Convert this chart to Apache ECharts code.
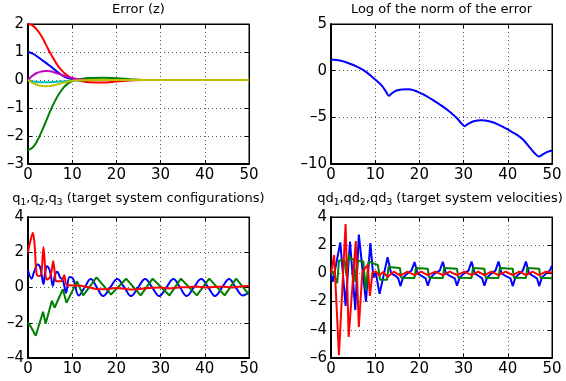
<!DOCTYPE html>
<html>
<head>
<meta charset="utf-8">
<script src="https://cdn.jsdelivr.net/npm/echarts@6/dist/echarts.min.js"></script>
<style>
html,body{margin:0;padding:0;background:#fff;}
#c{width:566px;height:381px;}
</style>
</head>
<body>
<div id="c"></div>
<script>
// ---------- Titles ----------
const titles = [
  'Error (z)',
  'Log of the norm of the error',
  'q{s|1},q{s|2},q{s|3} (target system configurations)',
  'qd{s|1},qd{s|2},qd{s|3} (target system velocities)'
];

// ---------- Axis ranges ----------
const xRange = [0, 50, 10];
const yRanges = [[-3, 2, 1], [-10, 5, 5], [-4, 4, 2], [-6, 4, 2]];

// ---------- Panel 1: Error (z) ----------
const errBlue = [[0,1],[1,0.95],[2,0.85],[3,0.73],[4,0.62],[5,0.5],[6,0.37],[7,0.25],[8,0.14],[9,0.07],[10,0.03],[11,0.01],[12,0],[20,0],[50,0]];
const errGreen = [[0,-2.5],[1,-2.42],[2,-2.2],[3,-1.87],[4,-1.5],[5,-1.12],[6,-0.78],[7,-0.5],[8,-0.28],[9,-0.13],[10,-0.04],[11,0.01],[12,0.04],[14,0.07],[17,0.08],[20,0.06],[23,0.03],[26,0],[35,0],[50,0]];
const errRed = [[0,2],[1,1.95],[2,1.8],[3,1.58],[4,1.28],[5,0.97],[6,0.7],[7,0.46],[8,0.28],[9,0.15],[10,0.06],[11,0],[12,-0.04],[14,-0.08],[17,-0.09],[20,-0.05],[23,-0.02],[26,0],[35,0],[50,0]];
const errCyan = [[0,0],[1,-0.05],[2,-0.07],[4,-0.08],[6,-0.07],[8,-0.05],[10,-0.03],[12,-0.01],[14,0],[25,0],[50,0]];
const errMagenta = [[0,0],[1,0.15],[2,0.25],[3,0.3],[4,0.32],[5,0.31],[6,0.27],[7,0.22],[8,0.16],[9,0.11],[10,0.07],[11,0.04],[12,0.02],[14,0],[25,0],[50,0]];
const errYellow = [[0,0],[1,-0.1],[2,-0.17],[3,-0.21],[4,-0.22],[5,-0.21],[6,-0.18],[7,-0.14],[8,-0.1],[9,-0.06],[10,-0.03],[12,-0.01],[14,0],[25,0],[50,0]];

// ---------- Panel 2: Log of the norm of the error ----------
const logNorm = [[0,1.2],[2,1.08],[4,0.8],[6,0.4],[8,-0.15],[10,-0.95],[11.5,-1.6],[12.5,-2.3],[13.1,-2.7],[13.7,-2.45],[14.7,-2.15],[16,-2.02],[17.5,-2.0],[19,-2.15],[20,-2.35],[21.5,-2.7],[23,-3.13],[25,-3.75],[27,-4.45],[28.5,-5.1],[29.5,-5.65],[30.2,-5.95],[31,-5.7],[32.5,-5.4],[34,-5.3],[36,-5.45],[38,-5.8],[40,-6.3],[42,-6.85],[43.5,-7.4],[45,-8.25],[46.2,-8.9],[47,-9.2],[48,-8.95],[49,-8.7],[50,-8.55]];

// ---------- Panel 3: q1,q2,q3 ----------
const qBlue = [[0,1.0],[0.8,0.5],[1.4,0.9],[2.2,1.3],[2.8,1.1],[3.5,0.2],[3.9,0.9],[4.3,1.2],[5.0,0.9],[5.6,0.1],[6.1,0.7],[6.6,0.9],[7.3,0.55],[7.8,0.45],[8.2,0.1],[8.6,-0.3],[9.4,0.6],[10.2,0.5],[11.5,-0.45],[12.8,0.0],[14.2,0.48],[15.6,0.0],[17.0,-0.48],[18.6,0.0],[20.2,0.48],[21.8,0.0],[23.3,-0.48],[24.9,0.0],[26.5,0.48],[28.1,0.0],[29.7,-0.48],[31.3,0.0],[32.9,0.48],[34.4,0.0],[35.9,-0.48],[37.5,0.0],[39.2,0.48],[40.8,0.0],[42.3,-0.48],[43.9,0.0],[45.5,0.48],[47.0,0.0],[48.6,-0.45],[50,-0.25]];
const qGreen = [[0,-1.98],[0.8,-2.3],[1.75,-2.74],[3.4,-1.38],[4.0,-2.04],[5.4,-0.75],[6.0,-1.15],[7.9,-0.1],[8.7,-0.87],[11.1,0.34],[12.5,-0.45],[15.5,0.57],[18.8,-0.4],[22.2,0.5],[25.5,-0.45],[28.2,0.5],[32.0,-0.45],[34.6,0.5],[38.2,-0.45],[41.0,0.5],[44.5,-0.45],[47.1,0.5],[50,-0.4]];
const qRed = [[0,2.0],[0.5,2.6],[1.1,3.1],[1.5,2.4],[2.0,0.7],[2.7,0.65],[3.1,1.0],[3.5,2.3],[3.8,1.4],[4.2,0.45],[4.9,0.55],[5.3,0.9],[5.7,1.5],[6.1,0.75],[6.4,0.35],[7.5,0.35],[8.2,0.7],[8.7,0.15],[10,0.12],[12,0.1],[14,0.0],[16,-0.1],[18,-0.08],[20,-0.03],[22,-0.08],[24,-0.12],[26,-0.05],[28,-0.02],[30,0.0],[32,-0.05],[34,0.0],[36,0.02],[38,0.05],[40,0.0],[42,0.03],[44,0.05],[46,0.0],[48,0.05],[50,0.08]];

// ---------- Panel 4: qd1,qd2,qd3 ----------
const qdBlue = [[0,0],[0.4,-0.6],[2.1,2.2],[3.3,-2.3],[4.3,2.25],[5.5,-2.6],[6.3,2.75],[7.9,-2.0],[8.9,2.15],[9.6,-0.3],[10.1,0.1],[11.0,-1.45],[12.8,1.15],[13.6,0.0],[14.7,-0.2],[15.2,-0.35],[15.7,-0.9],[16.3,-0.3],[17.3,0.0],[18.2,0.2],[18.9,0.8],[19.6,0.0],[20.6,-0.2],[21.4,-0.35],[21.9,-0.88],[22.5,-0.3],[23.5,0.0],[24.6,0.2],[25.3,0.82],[26.0,0.0],[27.0,-0.2],[28.0,-0.35],[28.5,-0.88],[29.1,-0.3],[30.1,0.0],[31.1,0.2],[31.8,0.84],[32.5,0.0],[33.5,-0.2],[34.2,-0.35],[34.7,-0.88],[35.3,-0.3],[36.3,0.0],[37.2,0.2],[37.9,0.84],[38.6,0.0],[39.6,-0.2],[40.6,-0.35],[41.1,-0.9],[41.7,-0.3],[42.7,0.0],[43.4,0.2],[44.1,0.84],[44.8,0.0],[45.8,-0.2],[46.6,-0.35],[47.1,-0.9],[47.7,-0.3],[48.7,0.0],[49.6,0.25],[50,0.55]];
const qdGreen = [[0,0],[0.4,0.15],[1.4,-0.7],[1.8,0.9],[2.5,0.95],[3.1,0.9],[3.5,-0.2],[4.0,1.3],[4.6,1.0],[5.2,1.0],[5.5,-0.6],[6.1,0.9],[7.3,0.85],[7.9,-1.2],[8.5,0.85],[9.3,0.75],[10.6,0.6],[11.1,-0.45],[12.7,-0.45],[13.0,0.45],[15.6,0.38],[15.9,-0.3],[18.9,-0.32],[19.2,0.38],[21.9,0.33],[22.2,-0.3],[25.3,-0.32],[25.6,0.38],[28.5,0.33],[28.8,-0.3],[31.8,-0.32],[32.1,0.38],[34.7,0.33],[35.0,-0.3],[37.9,-0.32],[38.2,0.38],[41.1,0.33],[41.4,-0.3],[44.1,-0.32],[44.4,0.38],[47.1,0.33],[47.4,-0.3],[50,-0.35]];
const qdRed = [[0,0],[0.7,1.3],[1.8,-5.8],[3.3,3.5],[4.0,-4.5],[5.6,2.3],[6.3,-3.8],[7.1,0.1],[8.3,0.6],[8.8,-1.6],[9.4,0.1],[10.2,0.12],[10.9,-0.15],[11.8,0.1],[12.8,-0.25],[14.2,0.12],[15.7,-0.15],[17.3,0.12],[18.9,-0.12],[20.4,0.12],[21.9,-0.12],[23.6,0.12],[25.3,-0.12],[26.9,0.12],[28.5,-0.12],[30.2,0.12],[31.8,-0.12],[33.3,0.12],[34.7,-0.12],[36.3,0.12],[37.9,-0.12],[39.5,0.12],[41.1,-0.12],[42.6,0.12],[44.1,-0.12],[45.6,0.12],[47.1,-0.12],[48.6,0.12],[50,0.05]];

// ---------- Layout / style ----------
const FONT = '"DejaVu Sans", "Liberation Sans", Arial, sans-serif';
const grids = [
  {left: 28, top: 24, width: 221, height: 140},
  {left: 331, top: 24, width: 221, height: 140},
  {left: 28, top: 217, width: 221, height: 141},
  {left: 331, top: 217, width: 221, height: 141}
];
const titlePos = [[138.5, 10], [441.5, 10], [138.5, 199], [440, 199]];
const C = {b: '#0000ff', g: '#008000', r: '#ff0000', c: '#00bfbf', m: '#bf00bf', y: '#bfbf00'};

const minusFmt = v => String(v).replace('-', '\u2013');

const xAxes = [], yAxes = [];
grids.forEach((g, i) => {
  const yr = yRanges[i];
  xAxes.push({
    gridIndex: i, type: 'value', min: xRange[0], max: xRange[1], interval: xRange[2], position: 'bottom',
    axisLine: {show: true, onZero: false, lineStyle: {color: '#000', width: 2}},
    axisTick: {show: true, inside: true, length: 4, lineStyle: {color: '#000'}},
    axisLabel: {color: '#000', fontSize: 15, fontFamily: FONT, margin: 4, formatter: minusFmt},
    splitLine: {show: true, lineStyle: {color: '#555', type: [1, 3], width: 1}}
  });
  xAxes.push({
    gridIndex: i, type: 'value', min: xRange[0], max: xRange[1], interval: xRange[2], position: 'top',
    axisLine: {show: true, onZero: false, lineStyle: {color: '#000', width: 1}},
    axisTick: {show: true, inside: true, length: 4, lineStyle: {color: '#000'}},
    axisLabel: {show: false}, splitLine: {show: false}
  });
  yAxes.push({
    gridIndex: i, type: 'value', min: yr[0], max: yr[1], interval: yr[2], position: 'left',
    axisLine: {show: true, onZero: false, lineStyle: {color: '#000', width: 2}},
    axisTick: {show: true, inside: true, length: 4, lineStyle: {color: '#000'}},
    axisLabel: {color: '#000', fontSize: 15, fontFamily: FONT, margin: 4, formatter: minusFmt},
    splitLine: {show: true, lineStyle: {color: '#555', type: [1, 3], width: 1}}
  });
  yAxes.push({
    gridIndex: i, type: 'value', min: yr[0], max: yr[1], interval: yr[2], position: 'right',
    axisLine: {show: true, onZero: false, lineStyle: {color: '#000', width: 1}},
    axisTick: {show: true, inside: true, length: 4, lineStyle: {color: '#000'}},
    axisLabel: {show: false}, splitLine: {show: false}
  });
});

function line(panel, data, color, smooth) {
  return {
    type: 'line', xAxisIndex: panel * 2, yAxisIndex: panel * 2, data: data,
    showSymbol: false, symbol: 'none', smooth: smooth,
    lineStyle: {color: color, width: 2}, itemStyle: {color: color},
    emphasis: {disabled: true}
  };
}

const series = [
  line(0, errBlue, C.b, 0.4),
  line(0, errGreen, C.g, 0.4),
  line(0, errRed, C.r, 0.4),
  line(0, errCyan, C.c, 0.4),
  line(0, errMagenta, C.m, 0.4),
  line(0, errYellow, C.y, 0.4),
  line(1, logNorm, C.b, 0.3),
  line(2, qBlue, C.b, 0.4),
  line(2, qGreen, C.g, false),
  line(2, qRed, C.r, 0.3),
  line(3, qdBlue, C.b, false),
  line(3, qdGreen, C.g, false),
  line(3, qdRed, C.r, false)
];

const graphic = titles.map((t, i) => ({
  type: 'text', x: titlePos[i][0], y: titlePos[i][1], silent: true,
  style: {
    text: t, align: 'center', verticalAlign: 'middle', fill: '#000',
    fontSize: 13, fontFamily: FONT, lineHeight: 17,
    rich: {s: {fontSize: 9, fontFamily: FONT, lineHeight: 9, verticalAlign: 'bottom', fill: '#000'}}
  }
}));

const chart = echarts.init(document.getElementById('c'), null, {renderer: 'canvas'});
chart.setOption({
  animation: false,
  backgroundColor: '#fff',
  grid: grids.map(g => Object.assign({show: true, borderColor: '#000', borderWidth: 1, backgroundColor: 'transparent'}, g)),
  xAxis: xAxes,
  yAxis: yAxes,
  series: series,
  graphic: graphic
});
</script>
</body>
</html>
